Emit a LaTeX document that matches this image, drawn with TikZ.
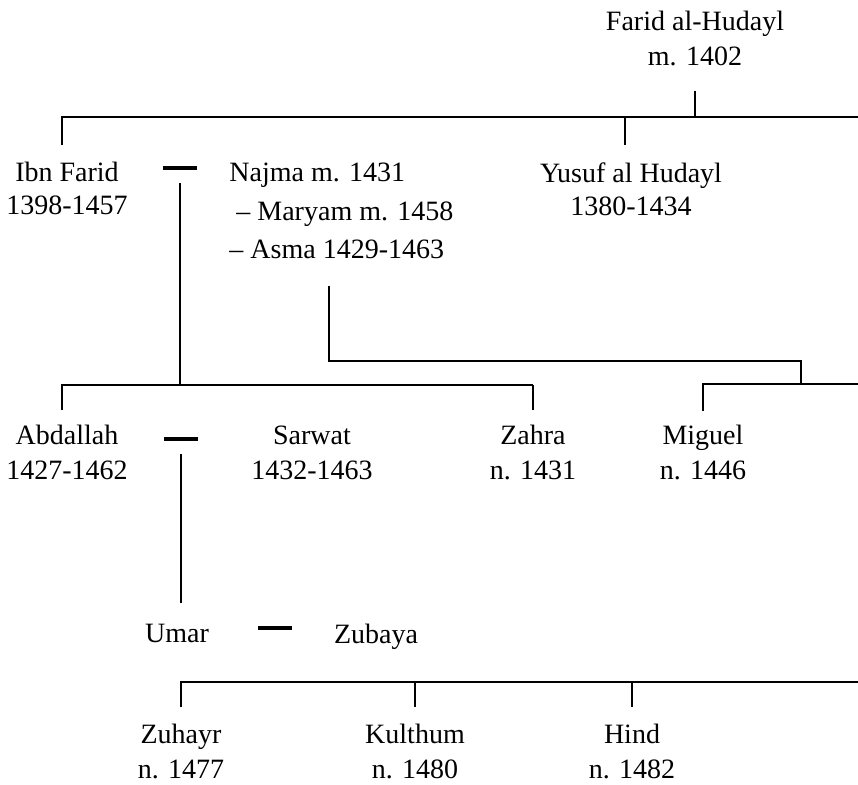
\documentclass[tikz,border=0pt]{standalone}
\usepackage{fontspec}
\setmainfont{Liberation Serif}
\usepackage{tikz}

\tikzset{
  person/.style={inner sep=0pt, align=center, font=\fontsize{14}{17.5}\selectfont},
  wed/.style={inner xsep=0pt, inner ysep=6pt},
}

\begin{document}
\begin{tikzpicture}[x=0.5pt,y=0.5pt,yscale=-1,xscale=1,line width=1.45pt]
\useasboundingbox (0,0) rectangle (858,784);

% Text Node
\node [person, anchor=north] (farid) at (695,10) {Farid al-Hudayl\\m. 1402};
% Text Node
\node [person, anchor=north, font=\fontsize{14}{16.5}\selectfont] (ibnfarid) at (67,161) {Ibn Farid\\1398-1457};
% Text Node
\node [person, anchor=north west, align=left, font=\fontsize{14}{19.5}\selectfont] (najma) at (228,161) {Najma m. 1431\\\hspace*{3.5pt}– Maryam m. 1458\\– Asma 1429-1463};
% Text Node
\node [person, anchor=north, font=\fontsize{14}{16.5}\selectfont] (yusuf) at (631,161) {Yusuf al Hudayl\\1380-1434};
% Text Node
\node [person, anchor=north] (abdallah) at (67,424) {Abdallah\\1427-1462};
% Text Node
\node [person, anchor=north] (sarwat) at (312,424) {Sarwat\\1432-1463};
% Text Node
\node [person, anchor=north] (zahra) at (533,424) {Zahra\\n. 1431};
% Text Node
\node [person, anchor=north] (miguel) at (703,424) {Miguel\\n. 1446};
% Text Node
\node [person, anchor=north] (umar) at (177,623) {Umar};
% Text Node
\node [person, anchor=north] (zubaya) at (376,623) {Zubaya};
% Text Node
\node [person, anchor=north] (zuhayr) at (181,723) {Zuhayr\\n. 1477};
% Text Node
\node [person, anchor=north] (kulthum) at (415,723) {Kulthum\\n. 1480};
% Text Node
\node [person, anchor=north] (hind) at (632,723) {Hind\\n. 1482};

%Shape: marriage marks
\node [wed] (wed1) at (180,168) {\rule{17pt}{1.6pt}};
\node [wed] (wed2) at (181,439) {\rule{17pt}{1.6pt}};
\node [wed] (wed3) at (275,628) {\rule{17pt}{1.6pt}};

\coordinate (bartop) at (858,117);
\coordinate (bar1) at (533,385);
\coordinate (lnk) at (801,361);
\coordinate (bar2) at (858,384);
\coordinate (bar3) at (858,682);

%Straight Lines
\draw (farid.south) ++(0,23) -- (farid.south |- bartop);
\draw (ibnfarid.north) ++(-5,-16) |- (bartop);
\draw (yusuf.north) ++(-6,-16) |- (bartop);
%Straight Lines
\draw (wed1.south) |- (bar1);
\draw (abdallah.north) ++(-5,-14) |- (bar1);
\draw (zahra.north) ++(0,-14) |- (bar1);
%Straight Lines
\draw (najma.south west) ++(101,25) |- (lnk) -- (lnk |- bar2);
\draw (miguel.north) ++(0,-13) |- (bar2);
%Straight Lines
\draw (umar.north) ++(4,-20) -- (wed2.south);
%Straight Lines
\draw (zuhayr.north) ++(0,-16) |- (bar3);
\draw (kulthum.north) ++(0,-16) |- (bar3);
\draw (hind.north) ++(0,-16) |- (bar3);

\end{tikzpicture}
\end{document}
